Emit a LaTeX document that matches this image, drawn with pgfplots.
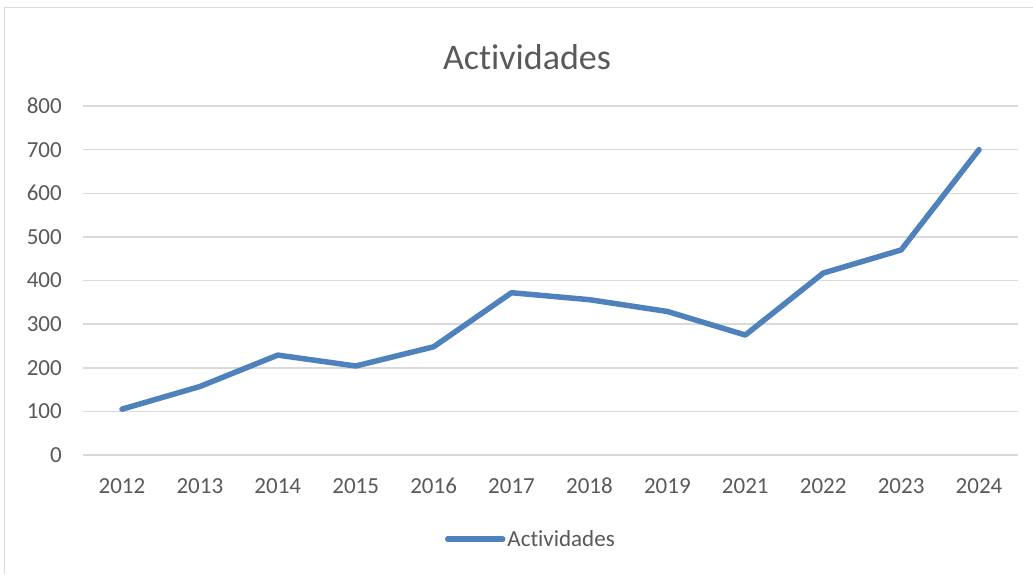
\documentclass[border=0pt]{standalone}
\usepackage{pgfplots}
\pgfplotsset{compat=1.18}
\usepackage{fontspec}
\setmainfont[Ligatures={NoCommon,NoRare}]{Carlito}
\definecolor{xlblue}{HTML}{4F81BD}
\definecolor{gridgray}{HTML}{D9D9D9}
\definecolor{txtgray}{HTML}{595959}
\newcommand{\act}{Act\kern0pt ividades}
\begin{document}
\begin{tikzpicture}
\path[use as bounding box] (0,0) rectangle (1033pt,574pt);
\draw[gridgray, line width=1.5pt] (4.5pt,0pt) |- (1033pt,566.5pt);
\node[anchor=base, text=txtgray, font=\fontsize{36}{40}\selectfont] at (527pt,504pt) {\act};
\begin{axis}[
  at={(83pt,119pt)}, anchor=south west,
  scale only axis,
  width=935pt, height=349pt,
  xmin=-0.5, xmax=11.5,
  ymin=0, ymax=800,
  ytick={0,100,...,800},
  xtick={0,...,11},
  xticklabels={2012,2013,2014,2015,2016,2017,2018,2019,2021,2022,2023,2024},
  axis line style={draw=none},
  tick style={draw=none},
  ymajorgrids=true,
  major grid style={gridgray, line width=1.5pt},
  /pgf/number format/assume math mode=true,
  ticklabel style={text=txtgray, font=\fontsize{23}{27}\selectfont},
  xticklabel style={anchor=base, inner sep=0pt, yshift=-38pt},
  yticklabel style={anchor=east, inner sep=0pt, xshift=-21pt},
  legend style={at={(0.479,-0.241)}, anchor=center, draw=none, fill=none,
    font=\fontsize{23}{27}\selectfont, text=txtgray, inner sep=0pt},
  legend image code/.code={\draw[#1, line cap=round] (0pt,0pt) -- (55pt,0pt);},
  legend cell align=left,
]
\addplot[xlblue, line width=5.5pt, line join=round, line cap=round] coordinates {
  (0,105) (1,157) (2,229) (3,204) (4,248) (5,372)
  (6,356) (7,329) (8,275) (9,417) (10,470) (11,700)
};
\addlegendentry{\act}
\end{axis}
\end{tikzpicture}
\end{document}
